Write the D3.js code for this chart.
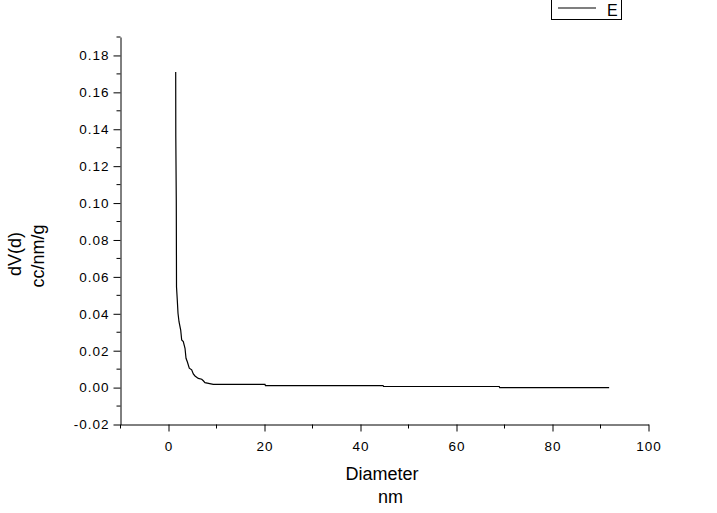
<!DOCTYPE html>
<html>
<head>
<meta charset="utf-8">
<script src="https://cdnjs.cloudflare.com/ajax/libs/d3/7.8.5/d3.min.js"></script>
<style>
    html, body {margin: 0; padding: 0; background: #fff;}
    #chart {width: 717px; height: 513px;}
    text {font-family: Arial, "Liberation Sans", sans-serif; fill: #000;}
</style>
</head>
<body>
<div id="chart"></div>
<script>
// Pore size distribution, series E
//**********************************************
var diameter = [1.50, 1.52, 1.62, 1.67, 1.83, 1.98, 2.19, 2.54, 2.75, 3.08, 3.44, 3.65,
                3.92, 4.33, 4.83, 5.17, 5.52, 6.21, 6.92, 7.25, 7.60, 9.33, 20.1, 20.2,
                44.7, 44.8, 68.9, 69.0, 91.8];
var dVd = [0.1710, 0.1364, 0.1016, 0.0545, 0.0475, 0.0403, 0.0357, 0.0312, 0.0258, 0.0249,
           0.0213, 0.0159, 0.0140, 0.0105, 0.0096, 0.0074, 0.0063, 0.0050, 0.0045, 0.0037,
           0.0027, 0.0017, 0.0017, 0.0011, 0.0011, 0.0006, 0.0006, 0.0000, 0.0000];
var xTicks = [0, 20, 40, 60, 80, 100];
var xMinor = [-10, 10, 30, 50, 70, 90];
var yTicks = [-0.02, 0.00, 0.02, 0.04, 0.06, 0.08, 0.10, 0.12, 0.14, 0.16, 0.18];
var yMinor = [-0.01, 0.01, 0.03, 0.05, 0.07, 0.09, 0.11, 0.13, 0.15, 0.17, 0.19];
var seriesName = 'E';

var Chart = (function(){

    var sizes = {width: 717, height: 513},
        // plain hyphen for negatives, like the original
        fmt = function(d){return d.toFixed(2);};

    var x = d3.scaleLinear().domain([-10, 100]).range([120.5, 648.5]),
        y = d3.scaleLinear().domain([-0.02, 0.19]).range([424.5, 37]);

    var svg = d3.select('#chart')
                .append('svg')
                .attr('width', sizes.width)
                .attr('height', sizes.height)
                ;

    // Axes (Origin style: ticks out, minor ticks shorter)
    var xAxis = svg.append('g').attr('transform', 'translate(0,424.5)');
    xAxis.call(d3.axisBottom(x).tickValues(xTicks).tickSize(7).tickPadding(10).tickSizeOuter(0));
    xAxis.selectAll('.minor')
        .data(xMinor)
        .enter().append('line')
        .attr('class', 'minor')
        .attr('x1', function(d){return x(d);}).attr('x2', function(d){return x(d);})
        .attr('y1', 0).attr('y2', 4)
        .attr('stroke', '#000');

    var yAxis = svg.append('g').attr('transform', 'translate(120.5,0)');
    yAxis.call(d3.axisLeft(y).tickValues(yTicks).tickSize(7).tickPadding(5).tickFormat(fmt).tickSizeOuter(0));
    yAxis.selectAll('.minor')
        .data(yMinor)
        .enter().append('line')
        .attr('class', 'minor')
        .attr('x1', -4).attr('x2', 0)
        .attr('y1', function(d){return y(d);}).attr('y2', function(d){return y(d);})
        .attr('stroke', '#000');

    svg.selectAll('.domain').attr('stroke', '#000');
    svg.selectAll('.tick line').attr('stroke', '#000');
    svg.selectAll('.tick text')
        .style('font-family', 'Arial, "Liberation Sans", sans-serif')
        .style('font-size', '13.5px')
        .style('letter-spacing', '1px')
        .attr('fill', '#000');
    yAxis.selectAll('.tick text').attr('dx', '1px');

    // Axis titles
    svg.append('text').attr('x', 382).attr('y', 480)
        .attr('text-anchor', 'middle').style('font-size', '18px').text('Diameter');
    svg.append('text').attr('x', 390.5).attr('y', 503)
        .attr('text-anchor', 'middle').style('font-size', '18px').text('nm');
    svg.append('text').attr('transform', 'translate(21,254) rotate(-90)')
        .attr('text-anchor', 'middle').style('font-size', '18px').text('dV(d)');
    svg.append('text').attr('transform', 'translate(44,256) rotate(-90)')
        .attr('text-anchor', 'middle').style('font-size', '18px').text('cc/nm/g');

    // Data line
    var points = diameter.map(function(d, i){return [d, dVd[i]];});
    var line = d3.line()
        .x(function(d){return x(d[0]);})
        .y(function(d){return y(d[1]);});
    svg.append('path')
        .datum(points)
        .attr('d', line)
        .attr('fill', 'none')
        .attr('stroke', '#000')
        .attr('stroke-width', 1.2);

    // Legend
    var legend = svg.append('g');
    legend.append('rect')
        .attr('x', 551.5).attr('y', -1).attr('width', 70).attr('height', 20.5)
        .attr('fill', 'none').attr('stroke', '#000');
    legend.append('line')
        .attr('x1', 558).attr('x2', 596).attr('y1', 8).attr('y2', 8)
        .attr('stroke', '#000').attr('stroke-width', 1.2);
    legend.append('text').attr('x', 607).attr('y', 15.5)
        .style('font-size', '16px').text(seriesName);

    return {svg: svg, x: x, y: y};
}());
</script>
</body>
</html>
